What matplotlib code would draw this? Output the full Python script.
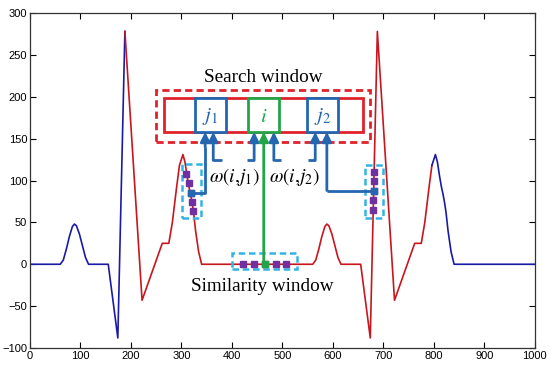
import numpy as np
import matplotlib
matplotlib.use('Agg')
import matplotlib.pyplot as plt
from matplotlib.patches import Rectangle

# One heartbeat (knots of the piecewise-linear ECG), repeated at two offsets
beat_x = [0, 60, 66, 72, 78, 84, 88, 92, 98, 104, 110, 116, 155, 174, 188, 222,
          262, 275, 282, 290, 296, 303, 307, 311, 315, 318, 321, 324, 328, 334, 340]
beat_y = [0, 0, 5, 18, 33, 45, 48, 46, 36, 22, 8, 0, 0, -88, 278, -43,
          25, 25, 50, 90, 118, 131, 122, 106, 92, 84, 74, 62, 40, 15, 0]
beat_starts = [0, 500]
signal_end = 1000
red_from, red_to = 188, 796   # part of the signal drawn in red

# Windows
search_outer = (250, 146, 673, 208)   # x0, y0, x1, y1
search_inner = (265, 158, 659, 198)
cand_boxes = {'j1': (327, 388), 'i': (432, 493), 'j2': (548, 610)}
sim_left = (301, 55, 339, 120)
sim_right = (663, 55, 699, 119)
sim_bottom = (400, -6, 529, 13)

# Similarity-window pixels (squares)
sq_left_x = [310, 314, 318, 321, 323]
sq_left_y = [108, 97, 85, 74, 64]
sq_right_x = [681, 682, 681, 680, 679]
sq_right_y = [110, 100, 87, 77, 65]
sq_bot_x = [422, 444, 465, 487, 507]
sq_bot_y = [0, 0, 0, 0, 0]

xticks = list(range(0, 1001, 100))
yticks = list(range(-100, 301, 50))

BLUE_SIG = '#1a1aa6'
RED_SIG = '#c8161e'
RED_BOX = '#e0232b'
BLUE_BOX = '#2466b0'
GREEN = '#22a548'
CYAN = '#33b4e4'
PURPLE = '#7030a0'

plt.rcParams['mathtext.fontset'] = 'stix'

sig_x = np.concatenate([np.array(beat_x) + s for s in beat_starts] + [[signal_end]])
sig_y = np.concatenate([np.array(beat_y) for s in beat_starts] + [[0]])

fig = plt.figure(figsize=(5.5, 3.72), dpi=100)
ax = fig.add_axes([0.0545, 0.0645, 0.918, 0.9005])

m1 = sig_x <= red_from
m2 = (sig_x >= red_from) & (sig_x <= red_to)
m3 = sig_x >= red_to
ax.plot(sig_x[m1], sig_y[m1], color=BLUE_SIG, lw=1.2)
ax.plot(sig_x[m2], sig_y[m2], color=RED_SIG, lw=1.2)
ax.plot(sig_x[m3], sig_y[m3], color=BLUE_SIG, lw=1.2)


def rect(box, color, dashed=False, lw=2.0):
    x0, y0, x1, y1 = box
    r = Rectangle((x0, y0), x1 - x0, y1 - y0, fill=False, edgecolor=color, lw=lw, zorder=4)
    if dashed:
        r.set_linestyle((0, (2.6, 1.5)))
    ax.add_patch(r)


rect(search_outer, RED_BOX, dashed=True, lw=2.0)
rect(search_inner, RED_BOX, lw=2.0)
by0, by1 = search_inner[1], search_inner[3]
labels = {'j1': (r'$j_1$', BLUE_BOX), 'i': (r'$i$', GREEN), 'j2': (r'$j_2$', BLUE_BOX)}
for k, (x0, x1) in cand_boxes.items():
    ax.add_patch(Rectangle((x0, by0), x1 - x0, by1 - by0, facecolor='white',
                           edgecolor=labels[k][1], lw=2.0, zorder=5))
    ax.text((x0 + x1) / 2, (by0 + by1) / 2 - 1, labels[k][0], color=labels[k][1],
            fontsize=15, ha='center', va='center', zorder=6)

for b in (sim_left, sim_right, sim_bottom):
    rect(b, CYAN, dashed=True, lw=1.8)

ax.plot(sq_left_x, sq_left_y, 's', color=PURPLE, ms=4.5, zorder=6)
ax.plot(sq_right_x, sq_right_y, 's', color=PURPLE, ms=4.5, zorder=6)
ax.plot(sq_bot_x, sq_bot_y, 's', color=PURPLE, ms=4.5, zorder=6)
ax.plot(sq_left_x[2], sq_left_y[2], 's', color=BLUE_BOX, ms=4.5, zorder=7)
ax.plot(sq_right_x[2], sq_right_y[2], 's', color=BLUE_BOX, ms=4.5, zorder=7)
ax.plot(sq_bot_x[2], sq_bot_y[2], 's', color=GREEN, ms=4.5, zorder=7)


def arrow_path(xs, ys, color):
    ax.plot(xs[:-1], ys[:-1], color=color, lw=2.0, solid_capstyle='butt', zorder=5)
    ax.annotate('', xy=(xs[-1], ys[-1]), xytext=(xs[-2], ys[-2]),
                arrowprops=dict(arrowstyle='-|>', color=color, lw=2.0,
                                mutation_scale=14, shrinkA=0, shrinkB=0), zorder=6)


arrow_path([sq_left_x[2], 347, 347, 347], [85, 85, 140, by0], BLUE_BOX)
arrow_path([380, 363, 363], [124, 124, by0], BLUE_BOX)
arrow_path([430, 444, 444], [124, 124, by0], BLUE_BOX)
arrow_path([463, 463], [sq_bot_y[2], by0], GREEN)
arrow_path([497, 483, 483], [124, 124, by0], BLUE_BOX)
arrow_path([550, 565, 565], [124, 124, by0], BLUE_BOX)
arrow_path([sq_right_x[2], 588, 588], [88, 88, by0], BLUE_BOX)

ax.text(462, 223, 'Search window', family='Liberation Serif', fontsize=13.8,
        ha='center', va='center')
ax.text(460, -26, 'Similarity window', family='Liberation Serif', fontsize=13.8,
        ha='center', va='center')
ax.text(355, 104, r'$\omega(i{,}j_1)$', fontsize=14, ha='left', va='center')
ax.text(474, 104, r'$\omega(i{,}j_2)$', fontsize=14, ha='left', va='center')

ax.set_xlim(0, 1000)
ax.set_ylim(-100, 300)
ax.set_xticks(xticks)
ax.set_yticks(yticks)
ax.tick_params(direction='in', top=True, right=True, length=4, width=0.8,
               labelsize=8, pad=2)
for lab in ax.get_xticklabels() + ax.get_yticklabels():
    lab.set_family('Liberation Sans')
for sp in ax.spines.values():
    sp.set_linewidth(0.9)
    sp.set_color('#333333')

fig.savefig('out.png', dpi=100)
